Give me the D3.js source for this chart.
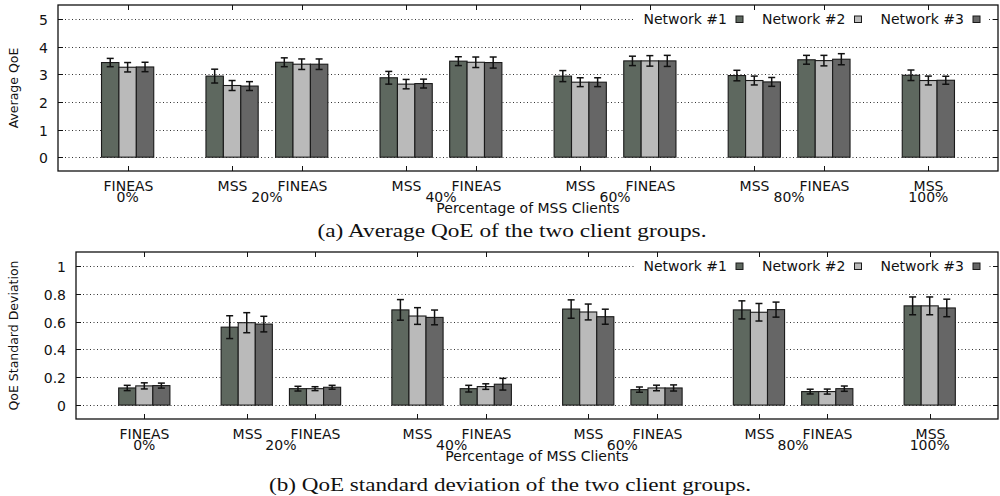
<!DOCTYPE html>
<html><head><meta charset="utf-8">
<script src="https://cdn.jsdelivr.net/npm/d3@7"></script>
<style>
html,body{margin:0;padding:0;background:#fff;}
svg{display:block;}
text{font-family:"DejaVu Sans",sans-serif;fill:#111;}
.cap{font-family:"Liberation Serif","DejaVu Serif",serif;}
</style></head>
<body><svg id="c" width="1000" height="496"></svg>
<script>
// ---------- data ----------
const categories = ["FINEAS","MSS","FINEAS","MSS","FINEAS","MSS","FINEAS","MSS","FINEAS","MSS"];
const percentLabels = ["0%","20%","40%","60%","80%","100%"];
const seriesNames = ["Network #1","Network #2","Network #3"];

// (a) Average QoE
const qoeNet1 = [3.42,2.93,3.43,2.87,3.47,2.93,3.48,2.95,3.52,2.96];
const qoeNet2 = [3.25,2.59,3.36,2.64,3.43,2.71,3.48,2.77,3.49,2.77];
const qoeNet3 = [3.26,2.57,3.36,2.66,3.42,2.71,3.48,2.72,3.54,2.78];
const qoeErr1 = [0.15,0.25,0.16,0.23,0.16,0.20,0.17,0.19,0.16,0.19];
const qoeErr2 = [0.17,0.18,0.19,0.17,0.19,0.16,0.19,0.16,0.19,0.16];
const qoeErr3 = [0.17,0.16,0.19,0.16,0.20,0.16,0.20,0.16,0.20,0.145];
const qoeTicks = ["0","1","2","3","4","5"];

// (b) QoE standard deviation
const sdNet1 = [0.123,0.560,0.118,0.684,0.118,0.690,0.111,0.684,0.097,0.713];
const sdNet2 = [0.138,0.592,0.118,0.640,0.133,0.669,0.123,0.667,0.097,0.713];
const sdNet3 = [0.140,0.582,0.128,0.630,0.150,0.635,0.123,0.686,0.118,0.698];
const sdErr1 = [0.019,0.082,0.017,0.074,0.024,0.066,0.019,0.065,0.017,0.064];
const sdErr2 = [0.022,0.072,0.014,0.060,0.020,0.057,0.020,0.063,0.018,0.064];
const sdErr3 = [0.018,0.056,0.014,0.053,0.042,0.054,0.022,0.054,0.019,0.063];
const sdTicks = ["0","0.2","0.4","0.6","0.8","1"];

const colors = ["#5e685f","#bababa","#666666"];

const svg = d3.select("#c");

// cluster position (in histogram units): FINEAS 0% alone, then MSS/FINEAS pairs
function clusterPos(i){ if(i===0) return 0; const k=Math.floor((i-1)/2), w=(i-1)%2; return 3+5*k+2*w; }
// percentage label positions: under first cluster, between pairs, under last cluster
function pctPos(j){ if(j===0) return clusterPos(0); if(j===percentLabels.length-1) return clusterPos(categories.length-1); return (clusterPos(2*j-1)+clusterPos(2*j))/2; }

function drawPanel(o){
  const g = svg.append("g");
  const x = d3.scaleLinear().domain([-2,25]).range([o.left,o.right]);
  const y = d3.scaleLinear().domain(o.ydom).range([o.bottom,o.top]);
  const tickVals = o.tickLabels.map(Number);

  // grid
  g.append("g").selectAll("line").data(tickVals).join("line")
    .attr("x1",o.left).attr("x2",o.right)
    .attr("y1",d=>Math.round(y(d))+0.5).attr("y2",d=>Math.round(y(d))+0.5)
    .attr("stroke","#333").attr("stroke-width",1).attr("stroke-dasharray","1,2.5");

  // bars
  const series = [o.s1,o.s2,o.s3], errs=[o.e1,o.e2,o.e3];
  const bw = x(0.5)-x(0);
  series.forEach((vals,si)=>{
    const gs = g.append("g");
    gs.selectAll("rect").data(vals).join("rect")
      .attr("x",(d,i)=>x(clusterPos(i)-0.75+0.5*si))
      .attr("width",bw)
      .attr("y",d=>y(d)).attr("height",d=>y(0)-y(d))
      .attr("fill",colors[si]).attr("stroke","#1a1a1a").attr("stroke-width",1.1);
  });
  // error bars
  series.forEach((vals,si)=>{
    const ge = g.append("g").attr("stroke","#111").attr("stroke-width",1.5);
    vals.forEach((d,i)=>{
      const cx = x(clusterPos(i)-0.5+0.5*si);
      const lo = y(d-errs[si][i]), hi = y(d+errs[si][i]);
      ge.append("line").attr("x1",cx).attr("x2",cx).attr("y1",lo).attr("y2",hi);
      ge.append("line").attr("x1",cx-3.5).attr("x2",cx+3.5).attr("y1",lo).attr("y2",lo);
      ge.append("line").attr("x1",cx-3.5).attr("x2",cx+3.5).attr("y1",hi).attr("y2",hi);
    });
  });

  // legend (opaque)
  const ly = o.top+14;
  g.append("rect").attr("x",634).attr("y",ly-8).attr("width",354).attr("height",17).attr("fill","#fff");
  seriesNames.forEach((n,si)=>{
    const sx = 736+118.5*si;
    g.append("text").attr("x",sx-9).attr("y",ly+5).attr("text-anchor","end").attr("font-size",14).text(n);
    g.append("rect").attr("x",sx).attr("y",ly-3).attr("width",7).attr("height",6.5)
      .attr("fill",colors[si]).attr("stroke","#1a1a1a").attr("stroke-width",1);
  });

  // y axis ticks & labels
  const yl = g.append("g");
  tickVals.forEach((v,k)=>{
    const yy = Math.round(y(v))+0.5;
    yl.append("line").attr("x1",o.left).attr("x2",o.left+5).attr("y1",yy).attr("y2",yy).attr("stroke","#111");
    yl.append("line").attr("x1",o.right-5).attr("x2",o.right).attr("y1",yy).attr("y2",yy).attr("stroke","#111");
    yl.append("text").attr("x",o.left-10).attr("y",yy+5).attr("text-anchor","end").attr("font-size",14).text(o.tickLabels[k]);
  });
  // x ticks
  categories.forEach((c,i)=>{
    const xx = Math.round(x(clusterPos(i)))+0.5;
    g.append("line").attr("x1",xx).attr("x2",xx).attr("y1",o.bottom).attr("y2",o.bottom-5).attr("stroke","#111");
    g.append("line").attr("x1",xx).attr("x2",xx).attr("y1",o.top).attr("y2",o.top+5).attr("stroke","#111");
    g.append("text").attr("x",xx).attr("y",o.bottom+20).attr("text-anchor","middle").attr("font-size",14).text(c);
  });
  percentLabels.forEach((p,j)=>{
    g.append("text").attr("x",x(pctPos(j))).attr("y",o.bottom+31).attr("text-anchor","middle").attr("font-size",14).text(p);
  });
  // frame
  g.append("rect").attr("x",o.left).attr("y",o.top).attr("width",o.right-o.left).attr("height",o.bottom-o.top)
    .attr("fill","none").attr("stroke","#111").attr("stroke-width",1.3);

  // axis titles
  g.append("text").attr("x",(o.left+o.right)/2).attr("y",o.bottom+42).attr("text-anchor","middle").attr("font-size",14).text("Percentage of MSS Clients");
  g.append("text").attr("transform",`translate(18,${(o.top+o.bottom)/2}) rotate(-90)`).attr("text-anchor","middle").attr("font-size",12.5).text(o.ylabel);
  // caption
  const cap = g.append("text").attr("class","cap").attr("x",o.capX).attr("y",o.capY).attr("text-anchor","middle").attr("font-size",19).text(o.caption);
  cap.attr("textLength",o.capW).attr("lengthAdjust","spacingAndGlyphs");
}

drawPanel({left:58,right:998,top:5,bottom:171,ydom:[-0.5,5.5],tickLabels:qoeTicks,
  s1:qoeNet1,s2:qoeNet2,s3:qoeNet3,e1:qoeErr1,e2:qoeErr2,e3:qoeErr3,
  ylabel:"Average QoE",caption:"(a) Average QoE of the two client groups.",capX:512,capY:237,capW:389});
drawPanel({left:76,right:998,top:252,bottom:419,ydom:[-0.1,1.1],tickLabels:sdTicks,
  s1:sdNet1,s2:sdNet2,s3:sdNet3,e1:sdErr1,e2:sdErr2,e3:sdErr3,
  ylabel:"QoE Standard Deviation",caption:"(b) QoE standard deviation of the two client groups.",capX:510,capY:491,capW:482});
</script></body></html>
